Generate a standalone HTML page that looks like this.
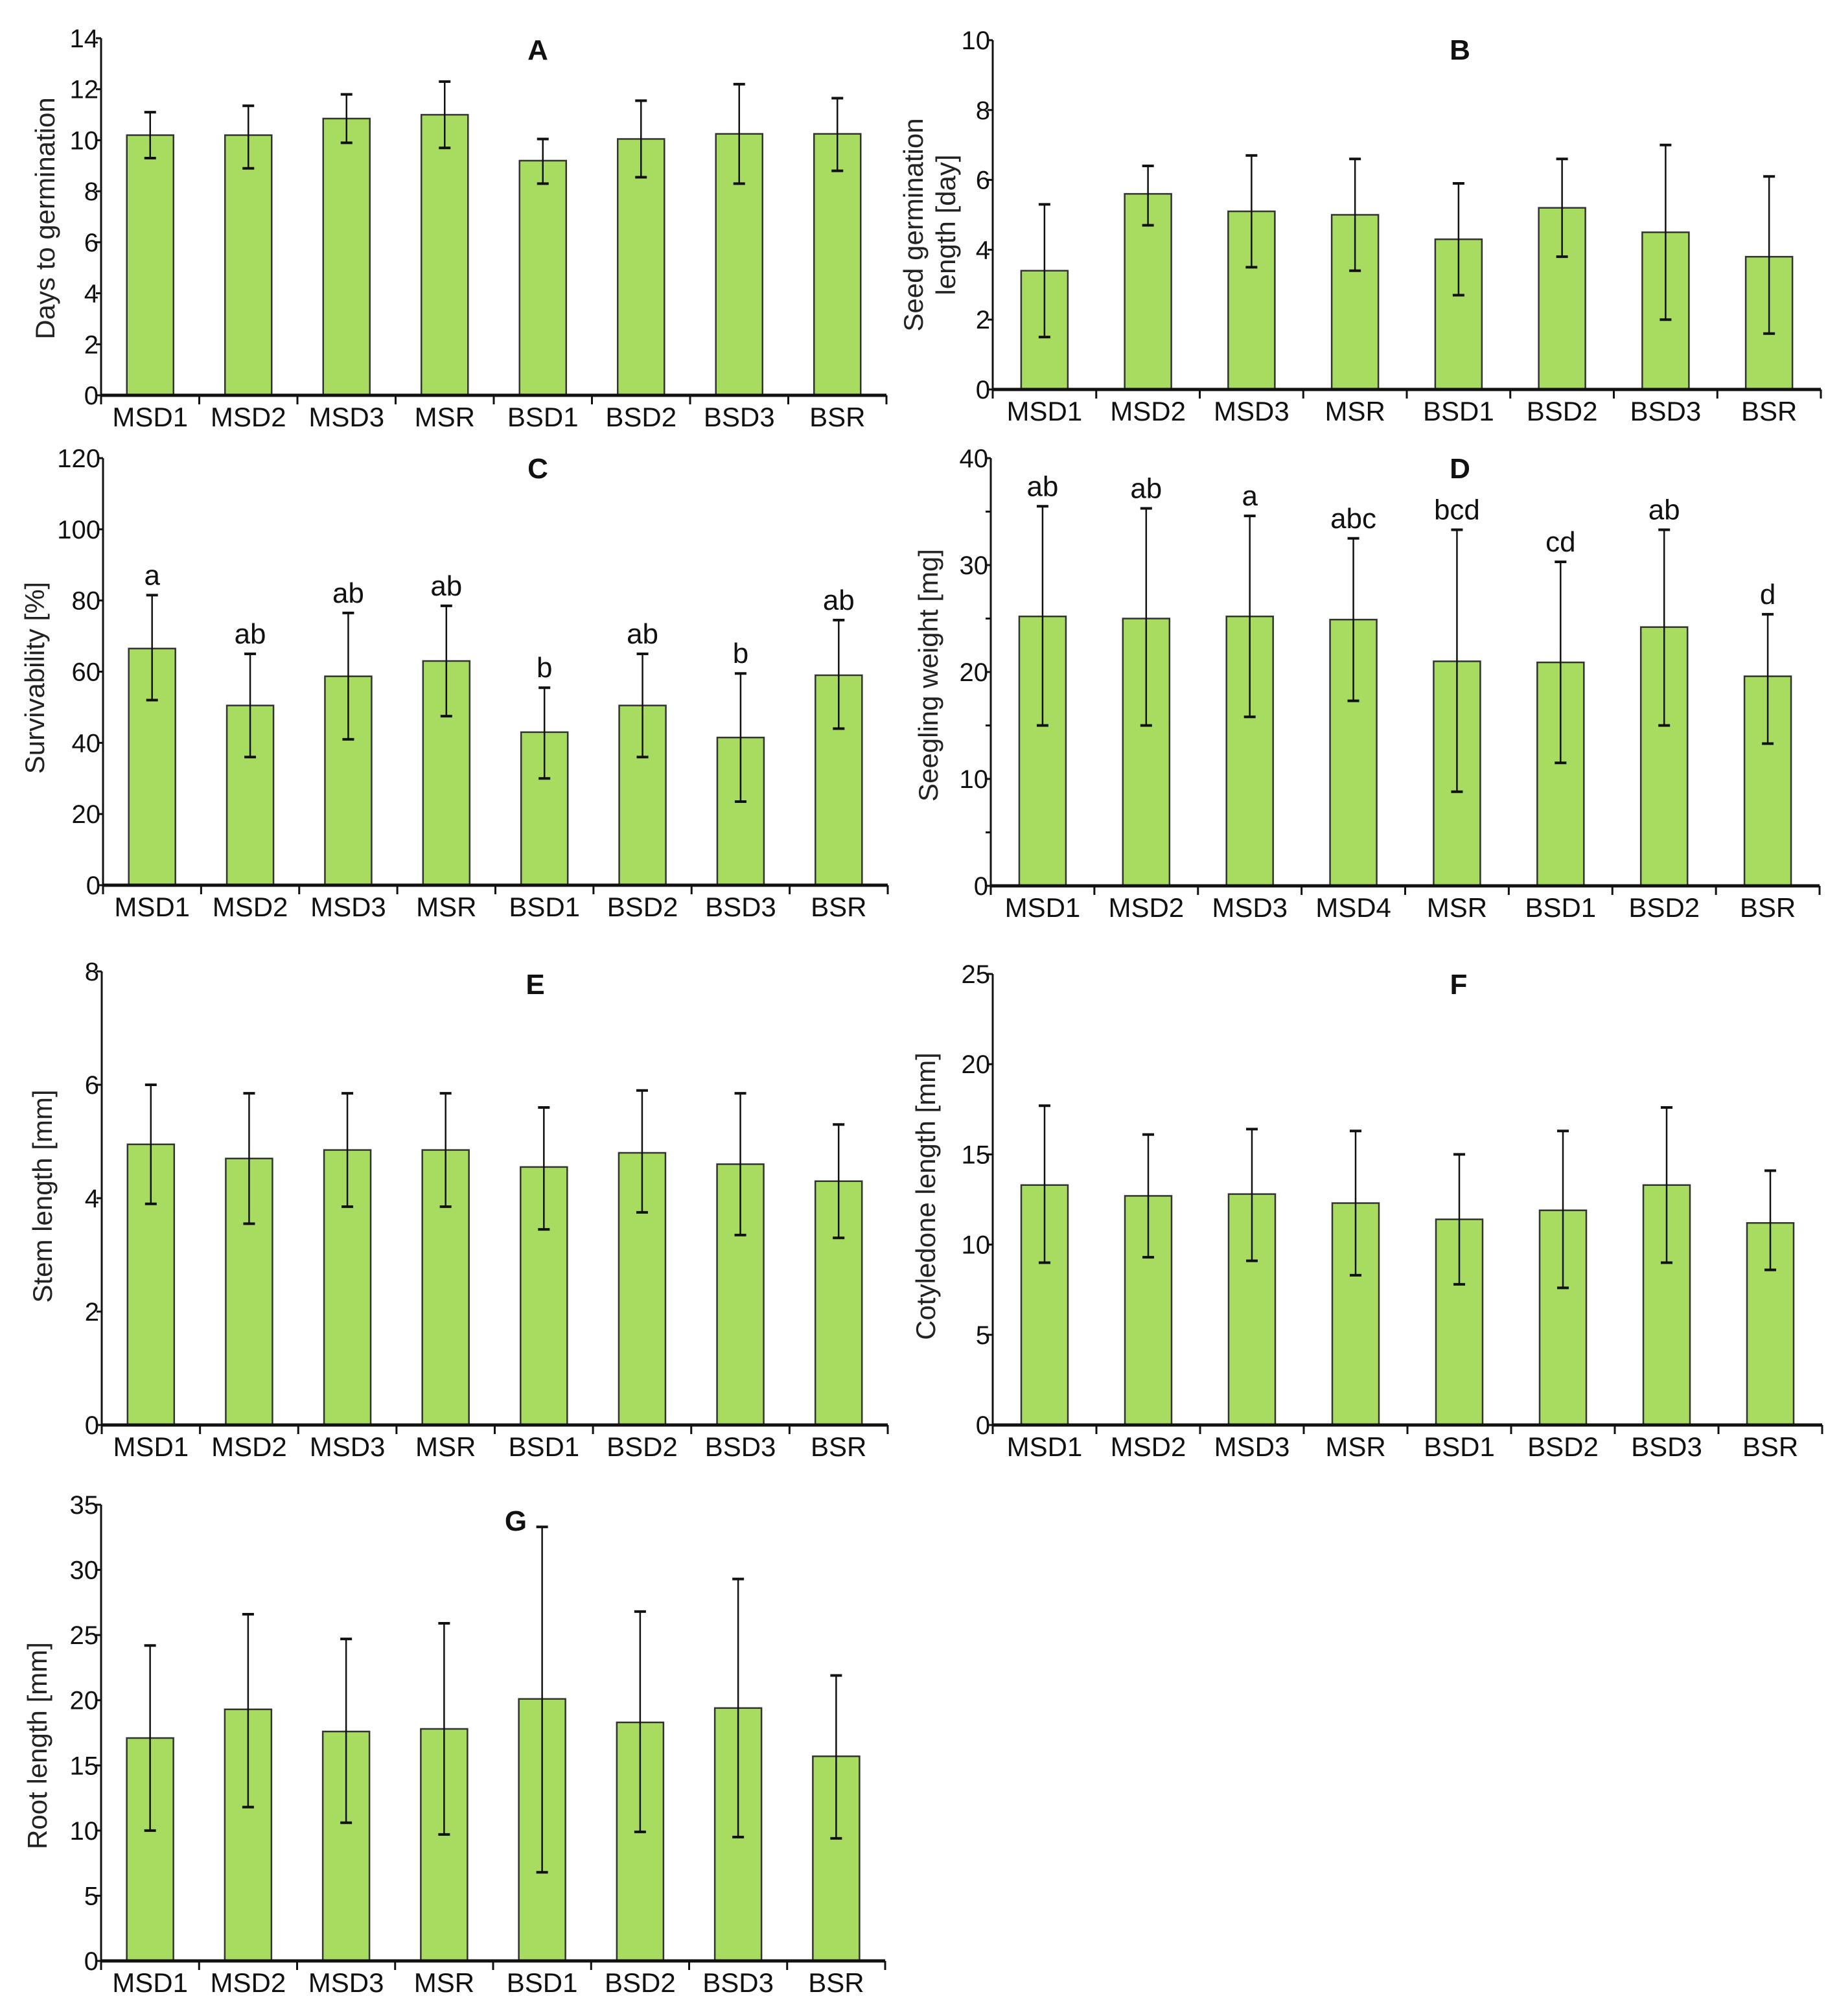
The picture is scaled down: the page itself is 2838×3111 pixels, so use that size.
<!DOCTYPE html>
<html><head><meta charset="utf-8">
<style>
html,body{margin:0;padding:0;background:#fff}
svg text{font-family:"Liberation Sans",sans-serif}
</style></head>
<body>
<svg id="fig" width="2838" height="3106" viewBox="0 0 2838 3106" xmlns="http://www.w3.org/2000/svg"></svg>
<script>
// ---- data ----
const catsA = ["MSD1","MSD2","MSD3","MSR","BSD1","BSD2","BSD3","BSR"];
const catsD = ["MSD1","MSD2","MSD3","MSD4","MSR","BSD1","BSD2","BSR"];
const valsA = [10.2,10.2,10.85,11.0,9.2,10.05,10.25,10.25];
const loA = [9.3,8.9,9.9,9.7,8.3,8.55,8.3,8.8];
const hiA = [11.1,11.35,11.8,12.3,10.05,11.55,12.2,11.65];
const valsB = [3.4,5.6,5.1,5.0,4.3,5.2,4.5,3.8];
const loB = [1.5,4.7,3.5,3.4,2.7,3.8,2.0,1.6];
const hiB = [5.3,6.4,6.7,6.6,5.9,6.6,7.0,6.1];
const valsC = [66.5,50.5,58.7,63,43,50.5,41.5,59];
const loC = [52,36,41,47.5,30,36,23.5,44];
const hiC = [81.5,65,76.5,78.5,55.5,65,59.5,74.5];
const lettersC = ["a","ab","ab","ab","b","ab","b","ab"];
const valsD = [25.2,25.0,25.2,24.9,21.0,20.9,24.2,19.6];
const loD = [15,15,15.8,17.3,8.8,11.5,15,13.3];
const hiD = [35.5,35.3,34.6,32.5,33.3,30.3,33.3,25.4];
const lettersD = ["ab","ab","a","abc","bcd","cd","ab","d"];
const valsE = [4.95,4.7,4.85,4.85,4.55,4.8,4.6,4.3];
const loE = [3.9,3.55,3.85,3.85,3.45,3.75,3.35,3.3];
const hiE = [6.0,5.85,5.85,5.85,5.6,5.9,5.85,5.3];
const valsF = [13.3,12.7,12.8,12.3,11.4,11.9,13.3,11.2];
const loF = [9,9.3,9.1,8.3,7.8,7.6,9,8.6];
const hiF = [17.7,16.1,16.4,16.3,15.0,16.3,17.6,14.1];
const valsG = [17.1,19.3,17.6,17.8,20.1,18.3,19.4,15.7];
const loG = [10,11.8,10.6,9.7,6.8,9.9,9.5,9.4];
const hiG = [24.2,26.6,24.7,25.9,33.3,26.8,29.3,21.9];
const ticksA = [0,2,4,6,8,10,12,14];
const ticksB = [0,2,4,6,8,10];
const ticksC = [0,20,40,60,80,100,120];
const ticksD = [0,10,20,30,40];
const ticksE = [0,2,4,6,8];
const ticksF = [0,5,10,15,20,25];
const ticksG = [0,5,10,15,20,25,30,35];

const NS="http://www.w3.org/2000/svg";
const svg=document.getElementById('fig');
function mk(tag,attrs,parent){const e=document.createElementNS(NS,tag);for(const k in attrs)e.setAttribute(k,attrs[k]);(parent||svg).appendChild(e);return e;}

function panel(o){
  const g=mk('g',{});
  
  
  const max=o.ticks[o.ticks.length-1];
  const ys=v=>o.y0-(v/max)*(o.y0-o.yt);
  const slot=(o.x1-o.x0)/o.cats.length;
  const xc=i=>o.x0+slot*(i+0.5);
  // bars
  o.vals.forEach((v,i)=>{
    const b=mk('rect',{x:xc(i)-36,y:ys(v),width:72,height:o.y0-ys(v),fill:'#a8dc60',stroke:'#333','stroke-width':2.5},g);
    
    
    const e=mk('g',{},g);
    
    
    mk('line',{x1:xc(i),x2:xc(i),y1:ys(o.lo[i]),y2:ys(o.hi[i]),stroke:'#111','stroke-width':2.5},e);
    mk('line',{x1:xc(i)-9,x2:xc(i)+9,y1:ys(o.lo[i]),y2:ys(o.lo[i]),stroke:'#111','stroke-width':4},e);
    mk('line',{x1:xc(i)-9,x2:xc(i)+9,y1:ys(o.hi[i]),y2:ys(o.hi[i]),stroke:'#111','stroke-width':4},e);
    if(o.letters){
      const t=mk('text',{x:xc(i),y:ys(o.hi[i])-16,'font-size':44,'text-anchor':'middle',fill:'#111'},g);
      t.textContent=o.letters[i];
      
      
    }
    const c=mk('text',{x:xc(i),y:o.y0+48,'font-size':42,'text-anchor':'middle',fill:'#111'},g);
    c.textContent=o.cats[i];
    
    
  });
  // axes
  const ax=mk('line',{x1:o.x0,x2:o.x0,y1:o.y0+4,y2:o.yt,stroke:'#111','stroke-width':3},g);
  
  
  const bx=mk('line',{x1:o.x0,x2:o.x1,y1:o.y0,y2:o.y0,stroke:'#111','stroke-width':5},g);
  
  
  for(let i=0;i<=o.cats.length;i++){
    mk('line',{x1:o.x0+slot*i,x2:o.x0+slot*i,y1:o.y0,y2:o.y0+14,stroke:'#111','stroke-width':3},g);
  }
  o.ticks.forEach(t=>{
    mk('line',{x1:o.x0-8,x2:o.x0,y1:ys(t),y2:ys(t),stroke:'#111','stroke-width':3},g);
    const tl=mk('text',{x:o.x0-4,y:ys(t)+14,'font-size':40,'text-anchor':'end',fill:'#111'},g);
    tl.textContent=t;
    
    
  });
  if(o.minor){o.minor.forEach(t=>mk('line',{x1:o.x0-8,x2:o.x0,y1:ys(t),y2:ys(t),stroke:'#111','stroke-width':3},g));}
  const tt=mk('text',{x:o.tx,y:o.ty,'font-size':44,'font-weight':'bold','text-anchor':'middle',fill:'#111'},g);
  tt.textContent=o.id;
  
  
  o.title.forEach((line,k)=>{
    const yt=mk('text',{x:0,y:0,'font-size':42,'text-anchor':'middle',fill:'#222',transform:`translate(${o.ax+k*50},${o.ay}) rotate(-90)`},g);
    yt.textContent=line;
    
    
  });
}
panel({id:'A',cats:catsA,vals:valsA,lo:loA,hi:hiA,ticks:ticksA,x0:156,x1:1368,y0:610,yt:59,tx:830,ty:92,title:['Days  to germination'],ax:84,ay:337});
panel({id:'B',cats:catsA,vals:valsB,lo:loB,hi:hiB,ticks:ticksB,x0:1532,x1:2810,y0:601,yt:62,tx:2253,ty:92,title:['Seed germination','length [day]'],ax:1424,ay:347});
panel({id:'C',cats:catsA,vals:valsC,lo:loC,hi:hiC,letters:lettersC,ticks:ticksC,x0:159,x1:1370,y0:1366,yt:707,tx:830,ty:738,title:['Survivability [%]'],ax:68,ay:1046});
panel({id:'D',cats:catsD,vals:valsD,lo:loD,hi:hiD,letters:lettersD,ticks:ticksD,minor:[5,15,25,35],x0:1529,x1:2808,y0:1367,yt:707,tx:2253,ty:738,title:['Seegling weight [mg]'],ax:1447,ay:1042});
panel({id:'E',cats:catsA,vals:valsE,lo:loE,hi:hiE,ticks:ticksE,x0:157,x1:1370,y0:2199,yt:1499,tx:826,ty:1534,title:['Stem length [mm]'],ax:80,ay:1846});
panel({id:'F',cats:catsA,vals:valsF,lo:loF,hi:hiF,ticks:ticksF,x0:1532,x1:2812,y0:2199,yt:1503,tx:2251,ty:1534,title:['Cotyledone length [mm]'],ax:1443,ay:1846});
panel({id:'G',cats:catsA,vals:valsG,lo:loG,hi:hiG,ticks:ticksG,x0:156,x1:1366,y0:3026,yt:2322,tx:796,ty:2362,title:['Root length [mm]'],ax:72,ay:2694});
</script>
</body></html>
